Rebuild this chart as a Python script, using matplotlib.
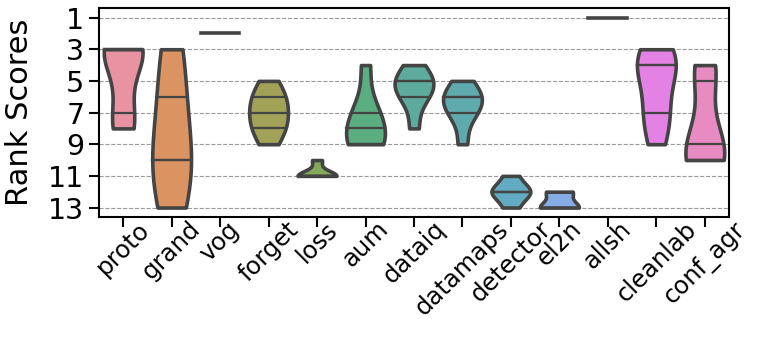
import numpy as np
import pandas as pd
import matplotlib
matplotlib.use("Agg")
import matplotlib.pyplot as plt
import seaborn as sns

methods = ["proto", "grand", "vog", "forget", "loss", "aum", "dataiq",
           "datamaps", "detector", "el2n", "allsh", "cleanlab", "conf_agr"]

# rank of each method over the datasets
proto = [3, 3, 3, 3, 3, 5, 7, 8, 8]
grand = [3, 6, 10, 10, 13]
vog = [2, 2, 2, 2, 2]
forget = [5, 6, 6, 7, 7, 8, 8, 9]
loss = [10, 11, 11, 11, 11]
aum = [4, 7, 7, 8, 9, 9, 9]
dataiq = [4, 5, 5, 5, 6, 6, 8]
datamaps = [5, 6, 6, 6, 7, 7, 9]
detector = [11, 12, 12, 12, 13]
el2n = [12, 12, 13, 13, 13]
allsh = [1, 1, 1, 1, 1]
cleanlab = [3, 4, 4, 4, 7, 7, 9]
conf_agr = [4, 4, 5, 8, 9, 10, 10, 10, 10]

yticks = [1, 3, 5, 7, 9, 11, 13]

ranks = [proto, grand, vog, forget, loss, aum, dataiq,
         datamaps, detector, el2n, allsh, cleanlab, conf_agr]
rows = []
for m, r in zip(methods, ranks):
    for v in r:
        rows.append((m, v))
df = pd.DataFrame(rows, columns=["method", "rank"])

# methods that got the same rank everywhere -> drawn as a flat line
flat = [r[0] for r in ranks if len(set(r)) == 1]

# husl colours, a bit washed out like the original
pal = []
for c in sns.color_palette("husl", len(methods)):
    c = np.array(sns.desaturate(c, 0.75))
    pal.append(tuple(c * 0.87 + 0.13))

fig = plt.figure(figsize=(7.61, 3.37), dpi=100)
ax = fig.add_axes([0.130, 0.356, 0.828, 0.620])

sns.violinplot(data=df, x="method", y="rank", hue="method", order=methods,
               hue_order=methods, palette=pal, cut=0, inner="quart",
               density_norm="width", linewidth=2.6, linecolor="#444444",
               saturation=1, legend=False, ax=ax)

for ln in ax.lines:
    ln.set_linestyle("-")
    ln.set_color("#444444")
    yd = np.asarray(ln.get_ydata(), dtype=float)
    if len(yd) and np.allclose(yd, yd[0]) and yd[0] in flat:
        ln.set_linewidth(2.6)
    else:
        ln.set_linewidth(1.6)

ax.set_yticks(yticks)
ax.set_ylim(13.6, 0.4)
ax.set_xlim(-0.5, len(methods) - 0.5)
ax.yaxis.grid(True, linestyle="--", color="#999999", linewidth=0.8)
ax.set_axisbelow(True)

ax.set_xlabel("")
ax.set_ylabel("Rank Scores", fontsize=22, labelpad=10)
ax.tick_params(axis="y", labelsize=20.5, length=7, width=1.5)
ax.tick_params(axis="x", labelsize=17.5, length=7, width=1.5, pad=-7)
plt.setp(ax.get_xticklabels(), rotation=45)
for s in ax.spines.values():
    s.set_linewidth(1.5)
    s.set_color("black")

fig.savefig("out.png", dpi=100)
